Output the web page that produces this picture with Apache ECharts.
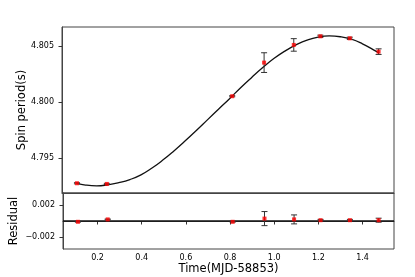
<!DOCTYPE html>
<html><head><meta charset="utf-8">
<script src="https://cdn.jsdelivr.net/npm/echarts@6/dist/echarts.min.js"></script>
<style>html,body{margin:0;padding:0;background:#fff}#c{width:415px;height:277px}</style>
</head><body><div id="c"></div>
<script>
const timeValues = [0.111, 0.246, 0.812, 0.956, 1.090, 1.210, 1.343, 1.473];
const periodValues = [4.79277, 4.79271, 4.80054, 4.80354, 4.80512, 4.80589, 4.80571, 4.80452];
const periodErrors = [0.00005, 0.00005, 0.00005, 0.00088, 0.00056, 0.00010, 0.00010, 0.00025];
const residualValues = [-0.0001, 0.0002, -0.0001, 0.0003, 0.0002, 0.0001, 0.0001, 0.0001];
const fitTimes = [0.111, 0.15, 0.20, 0.25, 0.30, 0.35, 0.40, 0.45, 0.50, 0.55, 0.60, 0.65, 0.70, 0.75, 0.80, 0.85, 0.90, 0.95, 1.00, 1.05, 1.10, 1.15, 1.20, 1.25, 1.30, 1.35, 1.40, 1.45, 1.475];
const fitPeriods = [4.79277, 4.79261, 4.79254, 4.79263, 4.79282, 4.79310, 4.79352, 4.79413, 4.79486, 4.79568, 4.79656, 4.79748, 4.79843, 4.79938, 4.80032, 4.80130, 4.80222, 4.80310, 4.80390, 4.80457, 4.80512, 4.80555, 4.80582, 4.80592, 4.80585, 4.80563, 4.80522, 4.80468, 4.80440];
const periodTicks = [4.795, 4.800, 4.805];
const residualTicks = [-0.002, 0.002];
const timeTicks = [0.2, 0.4, 0.6, 0.8, 1.0, 1.2, 1.4];

const FONT = 'DejaVu Sans';
const chart = echarts.init(document.getElementById('c'), null, {renderer: 'canvas'});

function errRender(params, api) {
  const x = api.value(0), y = api.value(1), e = api.value(2);
  const t = api.coord([x, y + e]), b = api.coord([x, y - e]);
  const w = 3, st = {stroke: '#333', lineWidth: 1};
  return {type: 'group', children: [
    {type: 'line', shape: {x1: t[0], y1: t[1], x2: b[0], y2: b[1]}, style: st},
    {type: 'line', shape: {x1: t[0] - w, y1: t[1], x2: t[0] + w, y2: t[1]}, style: st},
    {type: 'line', shape: {x1: b[0] - w, y1: b[1], x2: b[0] + w, y2: b[1]}, style: st}
  ]};
}

const axisLineStyle = {show: true, lineStyle: {color: '#444', width: 1}};
const xMin = 0.0435, xMax = 1.5425;

chart.setOption({
  animation: false,
  backgroundColor: '#fff',
  grid: [
    {left: 62, top: 27, right: 21, height: 166, show: true, borderColor: '#444', borderWidth: 1},
    {left: 62, top: 193, right: 21, height: 56, show: true, borderColor: '#444', borderWidth: 1}
  ],
  xAxis: [
    {type: 'value', gridIndex: 0, min: xMin, max: xMax, axisLine: axisLineStyle,
     axisTick: {show: false}, axisLabel: {show: false}, splitLine: {show: false}},
    {type: 'value', gridIndex: 1, min: xMin, max: xMax, axisLine: axisLineStyle,
     axisTick: {show: true, length: 3.5, lineStyle: {color: '#333'}, customValues: timeTicks},
     axisLabel: {show: true, customValues: timeTicks, margin: 5, fontFamily: FONT, fontSize: 8, color: '#000',
       formatter: v => v.toFixed(1)},
     splitLine: {show: false},
     name: 'Time(MJD-58853)', nameLocation: 'middle', nameGap: 14, nameMoveOverlap: false,
     nameTextStyle: {fontFamily: FONT, fontSize: 11.5, color: '#000'}}
  ],
  yAxis: [
    {type: 'value', gridIndex: 0, min: 4.7919, max: 4.80672, axisLine: axisLineStyle,
     axisTick: {show: true, length: 3.5, lineStyle: {color: '#333'}, customValues: periodTicks},
     axisLabel: {show: true, customValues: periodTicks, margin: 8, fontFamily: FONT, fontSize: 8, color: '#000',
       formatter: v => v.toFixed(3)},
     splitLine: {show: false},
     name: 'Spin period(s)', nameLocation: 'middle', nameGap: 34, nameMoveOverlap: false,
     nameTextStyle: {fontFamily: FONT, fontSize: 11.5, color: '#000'}},
    {type: 'value', gridIndex: 1, min: -0.0035, max: 0.0035, axisLine: axisLineStyle,
     axisTick: {show: true, length: 3.5, lineStyle: {color: '#333'}, customValues: residualTicks},
     axisLabel: {show: true, customValues: residualTicks, margin: 8, fontFamily: FONT, fontSize: 8, color: '#000',
       formatter: v => (v < 0 ? '\u2212' : '') + Math.abs(v).toFixed(3)},
     splitLine: {show: false},
     name: 'Residual', nameLocation: 'middle', nameGap: 43, nameMoveOverlap: false,
     nameTextStyle: {fontFamily: FONT, fontSize: 11.5, color: '#000'}}
  ],
  series: [
    {type: 'line', xAxisIndex: 0, yAxisIndex: 0, data: fitTimes.map((t, i) => [t, fitPeriods[i]]),
     smooth: 0.5, showSymbol: false, lineStyle: {color: '#111', width: 1.3}, silent: true, z: 2},
    {type: 'custom', xAxisIndex: 0, yAxisIndex: 0, renderItem: errRender,
     data: timeValues.map((t, i) => [t, periodValues[i], periodErrors[i]]), encode: {x: 0, y: 1}, z: 3},
    {type: 'scatter', xAxisIndex: 0, yAxisIndex: 0, symbol: 'rect', symbolSize: 4,
     itemStyle: {color: '#ff0000'}, data: timeValues.map((t, i) => [t, periodValues[i]]), z: 4},
    {type: 'line', xAxisIndex: 1, yAxisIndex: 1, data: [[xMin, 0], [xMax, 0]], showSymbol: false,
     lineStyle: {color: '#111', width: 1.3}, silent: true, z: 2},
    {type: 'custom', xAxisIndex: 1, yAxisIndex: 1, renderItem: errRender,
     data: timeValues.map((t, i) => [t, residualValues[i], periodErrors[i]]), encode: {x: 0, y: 1}, z: 3},
    {type: 'scatter', xAxisIndex: 1, yAxisIndex: 1, symbol: 'rect', symbolSize: 4,
     itemStyle: {color: '#ff0000'}, data: timeValues.map((t, i) => [t, residualValues[i]]), z: 4}
  ]
});
</script></body></html>
